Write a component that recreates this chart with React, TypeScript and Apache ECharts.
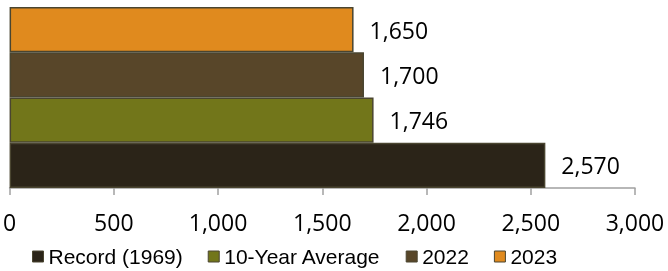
import React, { useEffect, useRef } from "react";
import * as echarts from "echarts";

const categories = ["Total"];
const seriesNames = ["Record (1969)", "10-Year Average", "2022", "2023"];
const seriesValues = [[2570], [1746], [1700], [1650]];
const seriesColors = ["#2b2418", "#72761a", "#584629", "#e08a1e"];
const xTicks = { min: 0, max: 3000, interval: 500 };

export default function App() {
  const ref = useRef<HTMLDivElement>(null);
  useEffect(() => {
    if (!ref.current) return;
    const chart = echarts.init(ref.current, null, { renderer: "svg" });
    const order = [3, 2, 1, 0];
    chart.setOption({
      animation: false,
      grid: { left: 8, right: 33, top: 7, height: 181, containLabel: false },
      legend: {
        left: 32,
        top: 246,
        padding: 0,
        itemWidth: 11,
        itemHeight: 11,
        itemGap: 25,
        icon: "rect",
        textStyle: { fontFamily: "Liberation Sans", fontSize: 21, color: "#000" },
        data: seriesNames.map((n, i) => ({
          name: n,
          itemStyle: { color: seriesColors[i], borderColor: "#4a4530", borderWidth: 1 },
        })),
      },
      xAxis: {
        type: "value",
        min: xTicks.min,
        max: xTicks.max,
        interval: xTicks.interval,
        splitLine: { show: false },
        axisLine: { show: true, lineStyle: { color: "#a0a0a0", width: 1.5 } },
        axisTick: { show: true, length: 7, lineStyle: { color: "#a0a0a0", width: 1.5 } },
        axisLabel: {
          margin: 22,
          fontFamily: "Open Sans",
          fontSize: 23,
          color: "#000",
          formatter: (v: number) => v.toLocaleString("en-US"),
        },
      },
      yAxis: {
        type: "category",
        data: categories,
        axisLine: { show: false },
        axisTick: { show: false },
        axisLabel: { show: false },
      },
      series: order.map((i) => ({
        name: seriesNames[i],
        type: "bar",
        data: seriesValues[i],
        barGap: "0%",
        barCategoryGap: "0%",
        itemStyle: { color: seriesColors[i], borderColor: "#4a4530", borderWidth: 1.5 },
        label: {
          show: true,
          position: "right",
          distance: 16,
          fontFamily: "Open Sans",
          fontSize: 23,
          color: "#000",
          formatter: (p: any) => Number(p.value).toLocaleString("en-US"),
        },
      })),
    });
    return () => chart.dispose();
  }, []);
  return <div ref={ref} style={{ position: "fixed", left: 0, top: 0, width: 668, height: 271 }} />;
}
